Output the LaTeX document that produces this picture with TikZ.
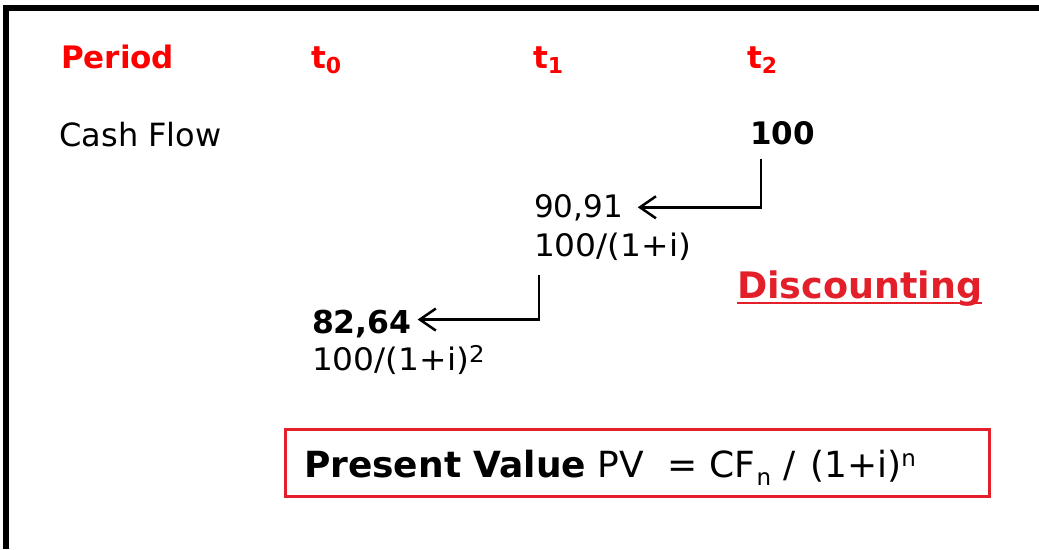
\documentclass[tikz,border=0pt]{standalone}
\usepackage{fontspec}
\setmainfont{DejaVu Sans}
\usetikzlibrary{arrows.meta}
\definecolor{hdred}{HTML}{FF0000}
\definecolor{dred}{HTML}{E3202A}
% size, raise (pt), text
\newcommand\rsz[3]{\raisebox{#2pt}{\fontsize{#1}{#1}\selectfont #3}}
\begin{document}
\begin{tikzpicture}[x=1pt,y=-1pt,
  txt/.style={inner sep=0pt, outer sep=0pt, anchor=base west, font=\fontsize{31}{31}\selectfont},
  bld/.style={font=\fontsize{31}{31}\selectfont\bfseries},
  arr/.style={line width=2.5pt, -{Straight Barb[length=16pt,width=22pt]}},
  frame/.style={line width=6pt},
  underl/.style={draw=dred, line width=2.6pt},
  pvframe/.style={draw=dred, line width=3pt, inner sep=0pt, minimum width=704pt, minimum height=67pt}]
\useasboundingbox (0,0) rectangle (1039,549);
\fill[white] (0,0) rectangle (1039,549);
\draw[frame] (6.3,549) -- (6.3,7.5) -- (1039,7.5);

\node[txt,bld,text=hdred] (period) at (61,68) {Period};
\node[txt,bld,text=hdred] (t0) at (311,68) {t\rsz{22}{-5}{0}};
\node[txt,bld,text=hdred] (t1) at (533,68) {t\rsz{22}{-5}{1}};
\node[txt,bld,text=hdred] (t2) at (747,68) {t\rsz{22}{-5}{2}};

\node[txt,font=\fontsize{32}{32}\selectfont] (cf) at (59.5,146) {Cash Flow};
\node[txt,bld] (c100) at (750,144.5) {100};

\node[txt] (v1) at (534,217) {90,91};
\node[txt] (f1) at (534,256) {\scalebox{1.06}[1]{100/(1+i)}};

\node[txt,font=\fontsize{31.5}{31.5}\selectfont\bfseries] (v2) at (312,333) {82,64};
\node[txt] (f2) at (312,370) {\scalebox{1.06}[1]{100/(1+i)\rsz{23}{8}{2}}};

\node[txt,font=\fontsize{36.5}{36.5}\selectfont\bfseries,text=dred] (disc) at (737,298) {Discounting};
\draw[underl] ([yshift=-5pt]disc.base west) -- ([yshift=-5pt]disc.base east);

\coordinate (k1) at (761,159);
\coordinate (k2) at (539,275);
\draw[arr] (k1) |- ([xshift=15pt]v1.east);
\draw[arr] (k2) |- ([xshift=6pt,yshift=4pt]v2.east);

\node[pvframe] (pvbox) at (637.5,463) {};
\node[txt,font=\fontsize{36}{36}\selectfont] (pv) at (304,477) {\textbf{Present Value} PV\hspace{23pt}=\hspace{12.5pt}CF\hspace{1pt}\rsz{23}{-8}{n}\hspace{12pt}/\hspace{15pt}(1+i)\rsz{23}{11}{n}};
\end{tikzpicture}
\end{document}
